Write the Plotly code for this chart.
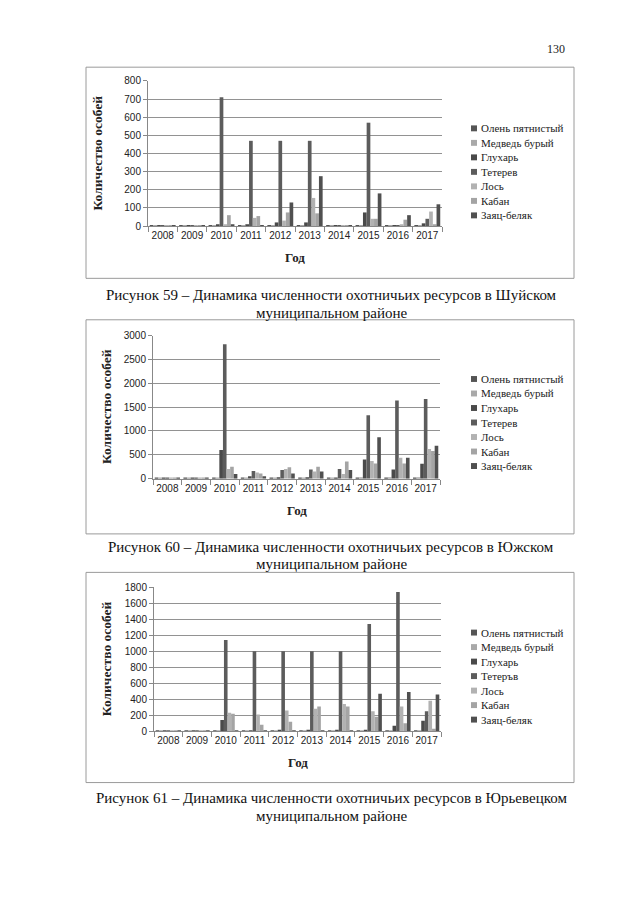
import plotly.graph_objects as go

W, H = 640, 905

years = ['2008', '2009', '2010', '2011', '2012', '2013', '2014', '2015', '2016', '2017']
species = ['Олень пятнистый', 'Медведь бурый', 'Глухарь', 'Тетерев', 'Лось', 'Кабан', 'Заяц-беляк']
species_3 = ['Олень пятнистый', 'Медведь бурый', 'Глухарь', 'Тетеръв', 'Лось', 'Кабан', 'Заяц-беляк']
colors = ['#555555', '#a9a9a9', '#4a4a4a', '#5c5c5c', '#b2b2b2', '#a4a4a4', '#505050']

# Рисунок 59 – Шуйский район
shuya_olen = [5, 5, 5, 5, 5, 5, 5, 5, 5, 5]
shuya_medved = [5, 5, 5, 5, 5, 5, 5, 5, 5, 5]
shuya_gluhar = [5, 5, 10, 10, 20, 20, 5, 75, 5, 15]
shuya_teterev = [5, 5, 710, 470, 470, 470, 5, 570, 5, 40]
shuya_los = [5, 5, 10, 45, 30, 155, 5, 40, 10, 80]
shuya_kaban = [5, 5, 60, 55, 75, 70, 5, 40, 35, 10]
shuya_zayac = [5, 5, 10, 5, 130, 275, 5, 180, 60, 120]

# Рисунок 60 – Южский район
yuzha_olen = [20, 15, 10, 10, 10, 10, 10, 20, 20, 20]
yuzha_medved = [20, 15, 10, 10, 20, 10, 20, 30, 30, 30]
yuzha_gluhar = [20, 15, 600, 50, 30, 30, 20, 400, 190, 310]
yuzha_teterev = [20, 15, 2820, 160, 180, 190, 200, 1330, 1640, 1670]
yuzha_los = [20, 15, 200, 130, 200, 150, 100, 370, 440, 620]
yuzha_kaban = [20, 15, 250, 110, 240, 250, 360, 320, 320, 580]
yuzha_zayac = [20, 15, 100, 50, 110, 150, 180, 870, 440, 690]

# Рисунок 61 – Юрьевецкий район
yur_olen = [10, 10, 10, 10, 10, 10, 10, 10, 10, 10]
yur_medved = [10, 10, 10, 10, 10, 10, 10, 10, 10, 10]
yur_gluhar = [10, 10, 140, 10, 20, 20, 20, 20, 70, 130]
yur_teterev = [10, 10, 1140, 1000, 1000, 1000, 1000, 1340, 1740, 250]
yur_los = [10, 10, 230, 210, 260, 280, 340, 250, 310, 380]
yur_kaban = [10, 10, 220, 80, 120, 310, 310, 180, 100, 30]
yur_zayac = [10, 10, 10, 10, 10, 10, 10, 470, 490, 460]

charts = [
    dict(series=[shuya_olen, shuya_medved, shuya_gluhar, shuya_teterev, shuya_los, shuya_kaban, shuya_zayac],
         names=species, ymax=800, dtick=100,
         box=(86, 62, 574, 276), plot=(148, 76, 442, 223), leg_y=124, ytitle_x=98,
         caption=['Рисунок 59 – Динамика численности охотничьих ресурсов в Шуйском', 'муниципальном районе'],
         cap_y=(293, 311)),
    dict(series=[yuzha_olen, yuzha_medved, yuzha_gluhar, yuzha_teterev, yuzha_los, yuzha_kaban, yuzha_zayac],
         names=species, ymax=3000, dtick=500,
         box=(86, 318, 574, 535), plot=(153, 334, 440, 479), leg_y=378, ytitle_x=106,
         caption=['Рисунок 60 – Динамика численности охотничьих ресурсов в Южском', 'муниципальном районе'],
         cap_y=(548, 566)),
    dict(series=[yur_olen, yur_medved, yur_gluhar, yur_teterev, yur_los, yur_kaban, yur_zayac],
         names=species_3, ymax=1800, dtick=200,
         box=(86, 574, 574, 787), plot=(154, 589, 441, 735), leg_y=635, ytitle_x=106,
         caption=['Рисунок 61 – Динамика численности охотничьих ресурсов в Юрьевецком', 'муниципальном районе'],
         cap_y=(803, 821)),
]

SERIF = 'Liberation Serif'
SANS = 'Liberation Sans'

fig = go.Figure()
shapes = []
annotations = []


def px(x):
    return x / W


def py(y):
    return 1 - y / H


for k, ch in enumerate(charts):
    n = '' if k == 0 else str(k + 1)
    xa = 'x' + n
    ya = 'y' + n
    for i, vals in enumerate(ch['series']):
        fig.add_trace(go.Bar(x=years, y=vals, name=ch['names'][i], marker_color=colors[i],
                             marker_line_width=0, xaxis=xa, yaxis=ya, showlegend=False))
    x0, y0, x1, y1 = ch['plot']
    fig.layout['xaxis' + n] = dict(domain=[px(x0), px(x1)], anchor=ya, type='category',
                                   tickson='boundaries', ticks='outside', ticklen=5, tickangle=0,
                                   tickcolor='#888888', showline=True, linecolor='#888888',
                                   showgrid=False, tickfont=dict(family=SANS, size=10, color='#222222'))
    fig.layout['yaxis' + n] = dict(domain=[py(y1), py(y0)], anchor=xa, range=[0, ch['ymax']],
                                   dtick=ch['dtick'], ticks='outside', ticklen=4, tickcolor='#888888',
                                   showline=True, linecolor='#888888', showgrid=True,
                                   gridcolor='#929292', gridwidth=1, zeroline=False,
                                   tickfont=dict(family=SANS, size=10, color='#222222'))
    bx0, by0, bx1, by1 = ch['box']
    shapes.append(dict(type='rect', xref='paper', yref='paper', x0=px(bx0), x1=px(bx1),
                       y0=py(by1), y1=py(by0), line=dict(color='#9a9a9a', width=1)))
    # y-axis title
    annotations.append(dict(xref='paper', yref='paper', x=px(ch['ytitle_x']), y=py((y0 + y1) / 2),
                            text='<b>Количество особей</b>', textangle=-90, showarrow=False,
                            font=dict(family=SERIF, size=13.5, color='#222222'),
                            xanchor='center', yanchor='middle'))
    # x-axis title
    annotations.append(dict(xref='paper', yref='paper', x=px((x0 + x1) / 2), y=py(y1 + 32),
                            text='<b>Год</b>', showarrow=False,
                            font=dict(family=SERIF, size=13, color='#222222'),
                            xanchor='center', yanchor='middle'))
    # legend
    for i, name in enumerate(ch['names']):
        yy = ch['leg_y'] + i * 14.7
        shapes.append(dict(type='rect', xref='paper', yref='paper', x0=px(471), x1=px(477),
                           y0=py(yy + 3), y1=py(yy - 3), fillcolor=colors[i], line_width=0))
        annotations.append(dict(xref='paper', yref='paper', x=px(479), y=py(yy), text=name,
                                showarrow=False, xanchor='left', yanchor='middle',
                                font=dict(family=SERIF, size=11, color='#222222')))
    # caption
    for line, cy in zip(ch['caption'], ch['cap_y']):
        annotations.append(dict(xref='paper', yref='paper', x=px(331), y=py(cy), text=line,
                                showarrow=False, xanchor='center', yanchor='middle',
                                font=dict(family=SERIF, size=15, color='#111111')))

annotations.append(dict(xref='paper', yref='paper', x=px(567), y=py(44), text='130', showarrow=False,
                        xanchor='right', yanchor='middle', font=dict(family=SERIF, size=12, color='#222222')))

fig.update_layout(width=W, height=H, margin=dict(l=0, r=0, t=0, b=0),
                  paper_bgcolor='white', plot_bgcolor='white', barmode='group',
                  bargap=0.12, bargroupgap=0, showlegend=False,
                  shapes=shapes, annotations=annotations)

fig.write_html('out.html', config={'displayModeBar': False},
               post_script="document.body.style.margin='0';document.body.style.overflow='hidden';")
